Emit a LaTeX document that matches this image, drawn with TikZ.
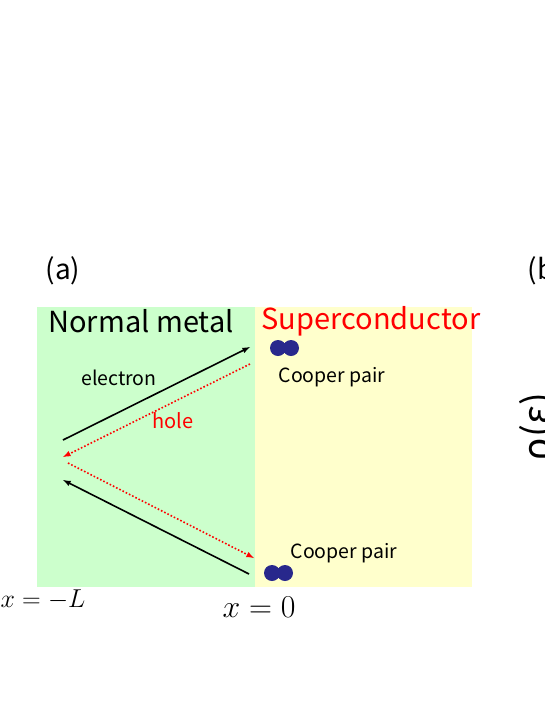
\documentclass[tikz,border=0pt]{standalone}
\usepackage{fontspec}
\setmainfont{Noto Sans CJK JP}
\definecolor{nmgreen}{RGB}{204,255,204}
\definecolor{scyellow}{RGB}{255,255,204}
\definecolor{pairblue}{RGB}{40,40,140}
\begin{document}
\begin{tikzpicture}[x=1pt,y=-1pt,
  elec/.style={line width=1.6pt,-latex},
  hole/.style={line width=1.6pt,red,dotted,-latex},
  pair/.style={fill=pairblue,draw=none}]
  \useasboundingbox (0,0) rectangle (545,705);
  % metal and superconductor
  \fill[nmgreen] (37,307) rectangle (255,587);
  \fill[scyellow] (255,307) rectangle (472,587);
  \path (63,271) node (lbla) {\fontsize{28}{28}\selectfont (a)};
  \path (141,321) node (nm) {\fontsize{29}{29}\selectfont Normal metal};
  \path (371,321) node[red] (sc) {\fontsize{29}{29}\selectfont Superconductor};
  % Cooper pairs
  \fill[pair] (278,348) circle (8) (291,348) circle (8);
  \fill[pair] (272,573) circle (8) (285,573) circle (8);
  \path (332,377) node (cp1) {\fontsize{19.5}{19.5}\selectfont Cooper pair};
  \path (344,553) node (cp2) {\fontsize{19.5}{19.5}\selectfont Cooper pair};
  % reflections
  \coordinate (e1) at (63,440);
  \coordinate (e2) at (250,347);
  \coordinate (h1) at (250,364);
  \coordinate (h2) at (63,457);
  \coordinate (h3) at (68,463);
  \coordinate (h4) at (254,558);
  \coordinate (e3) at (249,574);
  \coordinate (e4) at (63,480);
  \draw[elec] (e1) -- (e2);
  \draw[hole] (h1) -- (h2);
  \draw[hole] (h3) -- (h4);
  \draw[elec] (e3) -- (e4);
  \path (119,378) node (el) {\fontsize{19.5}{19.5}\selectfont electron};
  \path (173,421) node[red] (ho) {\fontsize{20}{20}\selectfont hole};
  % positions
  \path (43,600) node[scale=1.04] (xl) {\fontsize{24.88}{25}\selectfont $x=-L$};
  \path (259,607) node[scale=1.28] (x0) {\fontsize{24.88}{25}\selectfont $x=0$};
  % panel (b), cut off
  \path (546,271) node (lblb) {\fontsize{28}{28}\selectfont (b)};
  \path (539,427) node[rotate=90] (rho) {\fontsize{38}{38}\selectfont ρ(ε)};
\end{tikzpicture}
\end{document}
